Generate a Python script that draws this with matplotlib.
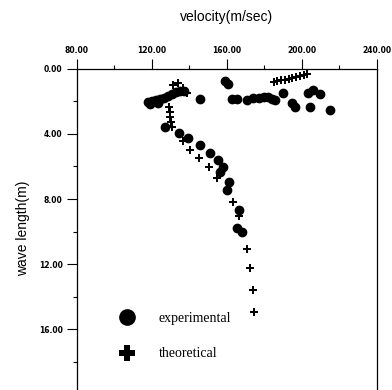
import matplotlib
matplotlib.use('Agg')
import matplotlib.pyplot as plt
from matplotlib.ticker import MultipleLocator, FormatStrFormatter
from matplotlib.lines import Line2D

# experimental points: velocity (m/sec), wave length (m)
exp_v = [159, 161,
         118.1, 119.2, 120.3, 122.4, 123.5, 124.5, 126.7, 128.8, 130.9, 133.1, 135.2, 137.3,
         145.9, 162.8, 165.8, 170.8, 174, 177, 180, 182, 184, 186,
         190.3, 194.8, 196.5, 203.6, 206.3, 209.9, 204.2, 215.2,
         127.2, 134.8, 139.6, 145.9, 151.2, 155.6, 158.0, 156.5, 161.5, 160.1,
         166.5, 165.4, 168.1]
exp_L = [0.75, 0.95,
         2.03, 2.15, 1.97, 1.91, 2.09, 1.85, 1.78, 1.66, 1.54, 1.42, 1.35, 1.35,
         1.86, 1.86, 1.86, 1.91, 1.8, 1.8, 1.75, 1.7, 1.85, 1.9,
         1.5, 2.1, 2.36, 1.5, 1.29, 1.54, 2.36, 2.52,
         3.55, 3.96, 4.26, 4.68, 5.15, 5.6, 6.01, 6.32, 6.94, 7.45,
         8.68, 9.8, 10.0]

# theoretical points
th_v = [185, 187, 189, 191, 193, 195, 197, 199, 201, 203,
        131.6, 134.3, 137.0, 138.8,
        129.3, 129.9, 129.9, 130.4, 131.0,
        137.0, 140.5, 145.5, 150.8, 155.1, 163.6, 166.8,
        170.8, 172.2, 173.8, 174.7]
th_L = [0.80, 0.75, 0.70, 0.65, 0.60, 0.55, 0.48, 0.42, 0.35, 0.28,
        0.98, 0.88, 1.19, 1.50,
        2.34, 2.65, 2.95, 3.26, 3.57,
        4.41, 4.98, 5.50, 6.05, 6.73, 8.17, 9.05,
        11.08, 12.26, 13.6, 14.94]

x_ticks = [80, 120, 160, 200, 240]
y_ticks = [0, 4, 8, 12, 16, 20]

fig = plt.figure(figsize=(3.92, 3.90), dpi=100)
ax = fig.add_axes([0.1952, -0.0103, 0.7658, 0.8334])

ax.plot(exp_v, exp_L, 'o', color='black', markersize=6, linestyle='none')
ax.plot(th_v, th_L, 'P', color='black', markersize=5.8, markeredgewidth=0, linestyle='none')

ax.set_xlim(80, 240)
ax.set_ylim(20, 0)
ax.xaxis.set_ticks_position('top')
ax.xaxis.set_label_position('top')
ax.set_xticks(x_ticks)
ax.set_yticks(y_ticks)
ax.xaxis.set_minor_locator(MultipleLocator(20))
ax.yaxis.set_minor_locator(MultipleLocator(2))
ax.xaxis.set_major_formatter(FormatStrFormatter('%.2f'))
ax.yaxis.set_major_formatter(FormatStrFormatter('%.2f'))
ax.tick_params(which='major', direction='out', length=7, width=0.8, labelsize=5.5, pad=3)
ax.tick_params(which='minor', direction='out', length=3, width=0.8)
for lab in ax.get_xticklabels() + ax.get_yticklabels():
    lab.set_fontweight('bold')
for s in ax.spines.values():
    s.set_linewidth(0.9)

ax.set_xlabel('velocity(m/sec)', fontsize=10, family='Liberation Sans', labelpad=18)
ax.set_ylabel('wave length(m)', fontsize=10, family='Liberation Sans')
ax.yaxis.set_label_coords(-0.155, 0.51)

handles = [Line2D([], [], marker='o', color='black', markersize=11, linestyle='none'),
           Line2D([], [], marker='P', color='black', markersize=11, markeredgewidth=0, linestyle='none')]
ax.legend(handles, ['experimental', 'theoretical'], loc='upper left',
          bbox_to_anchor=(0.08, 0.29), frameon=False, handletextpad=1.3,
          labelspacing=1.6, prop={'family': 'Liberation Serif', 'size': 10})

fig.savefig('out.png', dpi=100)
